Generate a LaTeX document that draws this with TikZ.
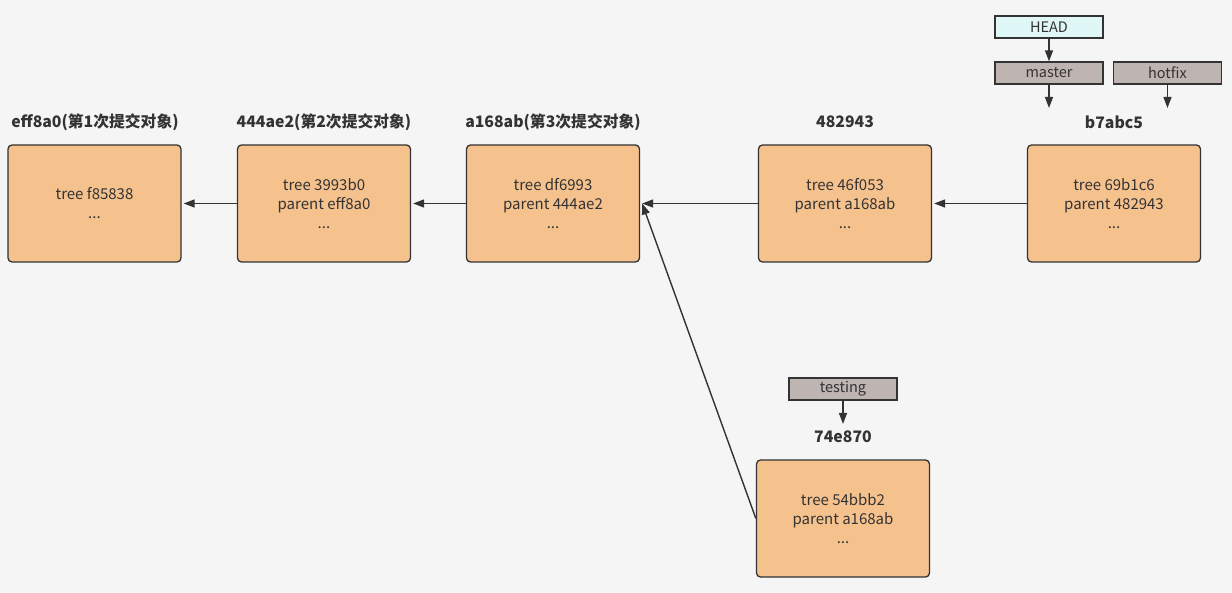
\documentclass[tikz,border=0pt]{standalone}
\usepackage{fontspec}
\setmainfont{Noto Sans CJK SC}
\usetikzlibrary{arrows.meta}
\definecolor{bgc}{HTML}{F5F5F5}
\definecolor{commitfill}{HTML}{F5C28E}
\definecolor{headfill}{HTML}{E0F7F7}
\definecolor{branchfill}{HTML}{BEB4B1}
\definecolor{ink}{HTML}{333333}
\begin{document}
\begin{tikzpicture}[x=1pt,y=-1pt,
  commit/.style={draw=ink, line width=1.3pt, fill=commitfill, rounded corners=4pt,
    minimum width=173pt, minimum height=117pt, align=center, text=ink,
    font=\fontsize{15}{19}\selectfont, inner sep=0pt},
  title/.style={text=ink, font=\fontsize{15.8}{18}\selectfont\bfseries, inner sep=0pt},
  ref/.style={draw=ink, line width=1.3pt, minimum width=108pt, minimum height=22pt,
    inner sep=0pt, text=ink, font=\fontsize{14.5}{16}\selectfont},
  link/.style={draw=ink, line width=1.4pt, -{Triangle[length=11pt,width=8pt]}}]
\fill[bgc] (0,0) rectangle (1232,593);
\useasboundingbox (0,0) rectangle (1232,593);

% commit objects
\node[commit] (c1) at (94.5,203.5) {tree f85838\\...};
\node[commit] (c2) at (324,203.5) {tree 3993b0\\parent eff8a0\\...};
\node[commit] (c3) at (553,203.5) {tree df6993\\parent 444ae2\\...};
\node[commit] (c4) at (845,203.5) {tree 46f053\\parent a168ab\\...};
\node[commit] (c5) at (1114,203.5) {tree 69b1c6\\parent 482943\\...};
\node[commit] (c6) at (843,518.5) {tree 54bbb2\\parent a168ab\\...};

% commit hashes
\node[title] (t1) at (95,122) {eff8a0(第1次提交对象)};
\node[title] (t2) at (324,122) {444ae2(第2次提交对象)};
\node[title] (t3) at (553,122) {a168ab(第3次提交对象)};
\node[title] (t4) at (845,122) {482943};
\node[title] (t5) at (1114,122) {b7abc5};
\node[title] (t6) at (843,437) {74e870};

% references
\node[ref, fill=headfill] (head) at (1049,27) {HEAD};
\node[ref, fill=branchfill] (master) at (1049,73) {master};
\node[ref, fill=branchfill] (hotfix) at (1167.5,73) {hotfix};
\node[ref, fill=branchfill] (testing) at (843,389) {testing};

\coordinate (mend) at (1049,108);
\coordinate (hend) at (1167.5,108);
\coordinate (tend) at (843,424);

% parent links
\draw[link] (c2.west) -- ([xshift=2pt]c1.east);
\draw[link] (c3.west) -- ([xshift=2pt]c2.east);
\draw[link] (c4.west) -- ([xshift=2pt]c3.east);
\draw[link] (c5.west) -- ([xshift=2pt]c4.east);
\draw[link] (c6.west) -- ([xshift=2pt]c3.east);

% reference pointers
\draw[link] (head.south) -- (master.north);
\draw[link] (master.south) -- (mend);
\draw[link] (hotfix.south) -- (hend);
\draw[link] (testing.south) -- (tend);
\end{tikzpicture}
\end{document}
